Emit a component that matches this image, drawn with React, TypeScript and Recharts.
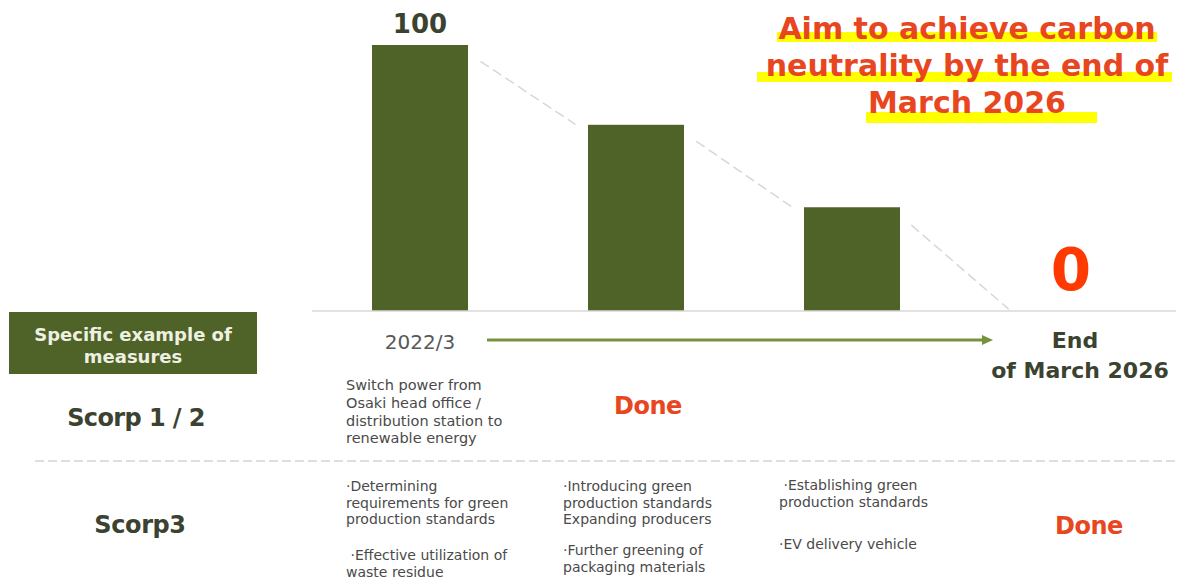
import React from 'react';
import { BarChart, Bar, XAxis, YAxis, LabelList } from 'recharts';

// ---- data ----
const categories = ['2022/3', 'Step 2', 'Step 3', 'End of March 2026'];
const emissionIndex = [100, 70, 39, 0];
const tickLabels: string[][] = [['2022/3'], [], [], ['End', 'of March 2026']];
const titleLines = ['Aim to achieve carbon', 'neutrality by the end of', 'March 2026'];
const scope12Text = ['Switch power from', 'Osaki head office /', 'distribution station to', 'renewable energy'];
const scope3Col1a = ['\u00b7Determining', 'requirements for green', 'production standards'];
const scope3Col1b = [' \u00b7Effective utilization of', 'waste residue'];
const scope3Col2a = ['\u00b7Introducing green', 'production standards', 'Expanding producers'];
const scope3Col2b = ['\u00b7Further greening of', 'packaging materials'];
const scope3Col3a = [' \u00b7Establishing green', 'production standards'];
const scope3Col3b = ['\u00b7EV delivery vehicle'];

const data = categories.map((c, i) => ({ name: c, value: emissionIndex[i] }));

// ---- layout ----
const W = 1185;
const H = 584;
const XAXIS_H = 80;
const CHART_H = 311 + XAXIS_H;
const M = { top: 45, right: 9, left: 312, bottom: 0 };
const PLOT_W = W - M.left - M.right;
const BAND = PLOT_W / categories.length;
const FONT = "'DejaVu Sans', Verdana, sans-serif";
const OLIVE = '#4f6228';
const DARK = '#3b4330';
const RED = '#e8461e';
const GRAY_TXT = '#4a4a4a';

const BarWithConnector = (props: any) => {
  const { x, y, width, height, index, fill } = props;
  const baseY = y + height;
  const v = emissionIndex[index];
  const nv = emissionIndex[index + 1];
  let conn = null;
  if (nv !== undefined && v > 0) {
    const nTop = baseY - (nv / v) * height;
    const drop = 8;
    const x1 = x + width;
    const y1 = y + drop;
    const x2 = x + BAND;
    const y2 = nTop + drop;
    const len = Math.hypot(x2 - x1, y2 - y1);
    const t = 15 / len;
    conn = (
      <line
        x1={x1 + (x2 - x1) * t}
        y1={y1 + (y2 - y1) * t}
        x2={x2 - (x2 - x1) * t}
        y2={y2 - (y2 - y1) * t}
        stroke="#d3d7df"
        strokeWidth={1.5}
        strokeDasharray="10 5"
      />
    );
  }
  return (
    <g>
      {height > 0 && <rect x={x} y={y} width={width} height={height} fill={fill} />}
      {conn}
    </g>
  );
};

const ValueLabel = (props: any) => {
  const vb = props.viewBox || props;
  const x = vb.x ?? props.x;
  const y = vb.y ?? props.y;
  const width = vb.width ?? props.width ?? 0;
  const height = vb.height ?? props.height ?? 0;
  const index = props.index;
  const cx = x + width / 2;
  if (index === 0) {
    return (
      <text x={cx} y={y - 12} textAnchor="middle" fontFamily={FONT} fontWeight={700} fontSize={26} fill={DARK}>
        {props.value}
      </text>
    );
  }
  if (index === emissionIndex.length - 1) {
    return (
      <text x={cx + 3} y={y + height - 21} textAnchor="middle" fontFamily={FONT} fontWeight={700} fontSize={58} fill="#ff3a00">
        {props.value}
      </text>
    );
  }
  return null;
};

const Tick = (props: any) => {
  const { x, y, payload } = props;
  const idx = payload.index ?? categories.indexOf(payload.value);
  const lines = tickLabels[idx] || [];
  if (lines.length === 1) {
    return (
      <text x={x} y={y + 38} textAnchor="middle" fontFamily={FONT} fontSize={20} fill="#595959">
        {lines[0]}
      </text>
    );
  }
  if (lines.length === 2) {
    return (
      <g>
        <text x={x + 7} y={y + 37} textAnchor="middle" fontFamily={FONT} fontWeight={700} fontSize={22} fill={DARK}>
          {lines[0]}
        </text>
        <text x={x + 12} y={y + 67} textAnchor="middle" fontFamily={FONT} fontWeight={700} fontSize={22} fill={DARK}>
          {lines[1]}
        </text>
      </g>
    );
  }
  return null;
};

type TxtProps = {
  x: number;
  base: number;
  size: number;
  lh?: number;
  weight?: number;
  color: string;
  align?: 'left' | 'center';
  lines: string[];
  ls?: number;
};

const Txt = ({ x, base, size, lh, weight = 400, color, align = 'left', lines, ls }: TxtProps) => {
  const L = lh ?? Math.round(size * 1.2);
  const off = (L - 1.164 * size) / 2 + 0.928 * size;
  return (
    <div
      style={{
        position: 'absolute',
        top: base - off,
        left: align === 'center' ? x - 300 : x,
        width: align === 'center' ? 600 : undefined,
        textAlign: align,
        fontSize: size,
        lineHeight: `${L}px`,
        fontWeight: weight,
        color,
        whiteSpace: 'pre',
        letterSpacing: ls,
        fontFamily: FONT,
      }}
    >
      {lines.join('\n')}
    </div>
  );
};

const highlights = [
  { x1: 777, x2: 1157, y1: 32, y2: 42 },
  { x1: 757, x2: 1172, y1: 72, y2: 82 },
  { x1: 866, x2: 1097, y1: 112, y2: 123 },
];

export default function App() {
  return (
    <div style={{ position: 'absolute', left: 0, top: 0, width: W, height: H, background: '#fff', overflow: 'hidden', fontFamily: FONT }}>
      <svg width={W} height={H} style={{ position: 'absolute', left: 0, top: 0, pointerEvents: 'none' }}>
        {highlights.map((h, i) => (
          <rect key={i} x={h.x1} y={h.y1} width={h.x2 - h.x1} height={h.y2 - h.y1} fill="#ffff00" />
        ))}
        <line x1={487} y1={340} x2={984} y2={340} stroke="#76923c" strokeWidth={3} />
        <polygon points="982,335 993,340 982,345" fill="#76923c" />
        <line x1={35} y1={461} x2={1175} y2={461} stroke="#d4d4d4" strokeWidth={1.5} strokeDasharray="9 4" />
      </svg>

      <div style={{ position: 'absolute', left: 0, top: 0 }}>
        <BarChart width={W} height={CHART_H} data={data} margin={M}>
          <XAxis
            dataKey="name"
            axisLine={{ stroke: '#d9d9d9', strokeWidth: 1.5 }}
            tickLine={false}
            tickSize={0}
            tickMargin={0}
            height={XAXIS_H}
            interval={0}
            tick={<Tick />}
          />
          <YAxis hide domain={[0, 100]} />
          <Bar dataKey="value" fill={OLIVE} barSize={96} isAnimationActive={false} shape={<BarWithConnector />}>
            <LabelList dataKey="value" content={<ValueLabel />} />
          </Bar>
        </BarChart>
      </div>

      {titleLines.map((t, i) => (
        <Txt key={i} x={967} base={39 + i * 37} size={30} weight={700} color={RED} align="center" lines={[t]} />
      ))}

      <div style={{ position: 'absolute', left: 9, top: 312, width: 248, height: 62, background: OLIVE }} />
      <Txt x={133} base={341} size={18} lh={22} weight={700} color="#eef1e2" align="center" lines={['Specific example of', 'measures']} />

      <Txt x={136} base={427} size={24} weight={700} color={DARK} align="center" lines={['Scorp 1 / 2']} ls={-0.6} />
      <Txt x={140} base={534} size={24} weight={700} color={DARK} align="center" lines={['Scorp3']} ls={-0.4} />

      <Txt x={346} base={391} size={14.5} lh={17.7} color={GRAY_TXT} lines={scope12Text} />
      <Txt x={648} base={415} size={24} weight={700} color={RED} align="center" lines={['Done']} ls={-0.5} />

      <Txt x={346} base={491} size={14} lh={16.7} color={GRAY_TXT} lines={scope3Col1a} />
      <Txt x={346} base={560} size={14} lh={17} color={GRAY_TXT} lines={scope3Col1b} />
      <Txt x={563} base={491} size={14} lh={16.7} color={GRAY_TXT} lines={scope3Col2a} />
      <Txt x={563} base={555} size={14} lh={17} color={GRAY_TXT} lines={scope3Col2b} />
      <Txt x={779} base={490} size={14} lh={17} color={GRAY_TXT} lines={scope3Col3a} />
      <Txt x={779} base={549} size={14} lh={17} color={GRAY_TXT} lines={scope3Col3b} />

      <Txt x={1089} base={535} size={24} weight={700} color={RED} align="center" lines={['Done']} ls={-0.5} />
    </div>
  );
}
